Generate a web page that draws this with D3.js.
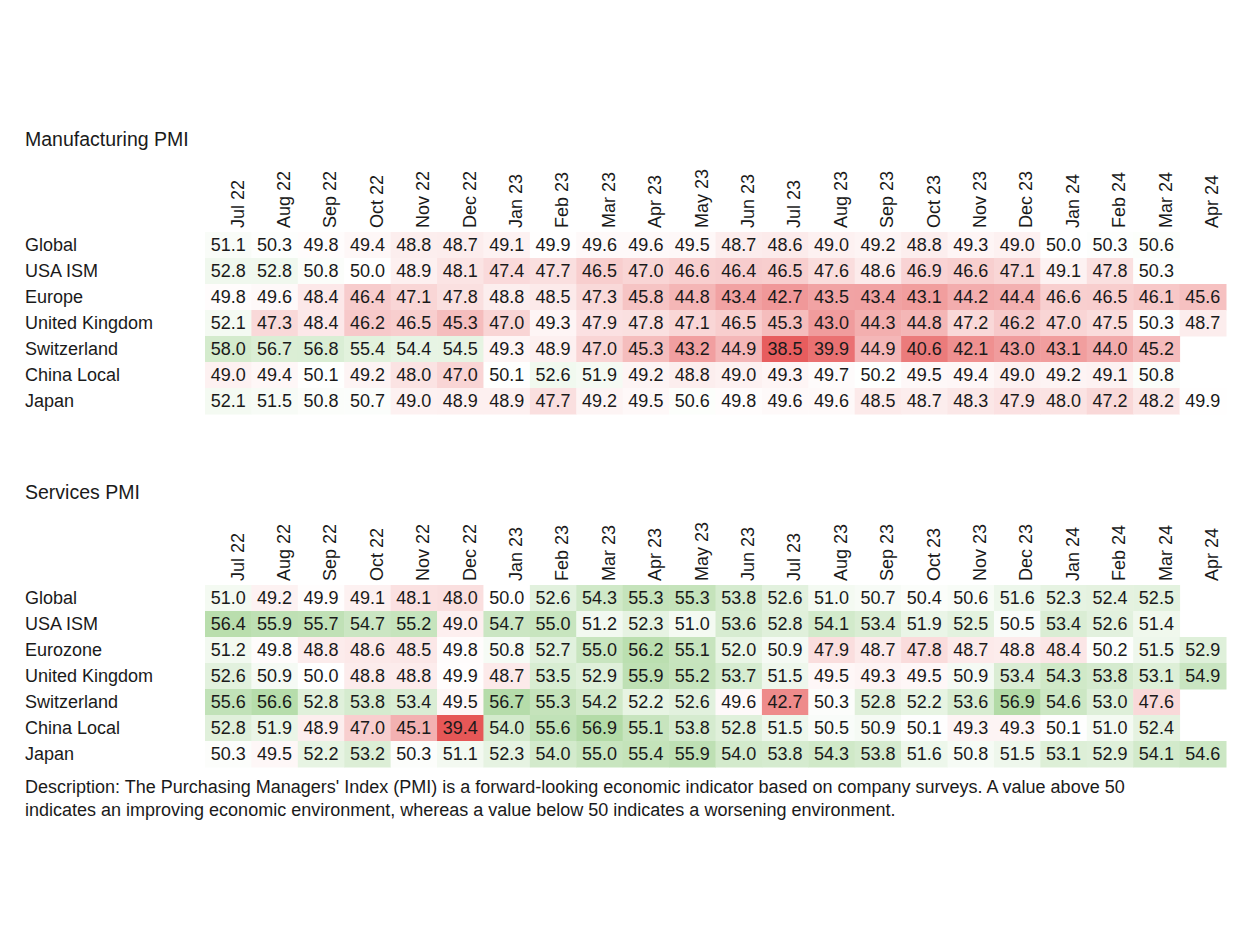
<!DOCTYPE html>
<html>
<head>
<meta charset="utf-8">
<script src="https://cdn.jsdelivr.net/npm/d3@7"></script>
<style>
  html, body { margin: 0; padding: 0; background: #fff; }
  svg text { font-family: "Liberation Sans", Arial, Helvetica, sans-serif; fill: #1a1a1a; }
</style>
</head>
<body>
<svg id="chart" width="1249" height="949"></svg>
<script>
const months = ["Jul 22","Aug 22","Sep 22","Oct 22","Nov 22","Dec 22","Jan 23","Feb 23","Mar 23","Apr 23","May 23","Jun 23","Jul 23","Aug 23","Sep 23","Oct 23","Nov 23","Dec 23","Jan 24","Feb 24","Mar 24","Apr 24"];

const mfgRegions = ["Global","USA ISM","Europe","United Kingdom","Switzerland","China Local","Japan"];
const mfgGlobal      = [51.1,50.3,49.8,49.4,48.8,48.7,49.1,49.9,49.6,49.6,49.5,48.7,48.6,49.0,49.2,48.8,49.3,49.0,50.0,50.3,50.6,null];
const mfgUSA         = [52.8,52.8,50.8,50.0,48.9,48.1,47.4,47.7,46.5,47.0,46.6,46.4,46.5,47.6,48.6,46.9,46.6,47.1,49.1,47.8,50.3,null];
const mfgEurope      = [49.8,49.6,48.4,46.4,47.1,47.8,48.8,48.5,47.3,45.8,44.8,43.4,42.7,43.5,43.4,43.1,44.2,44.4,46.6,46.5,46.1,45.6];
const mfgUK          = [52.1,47.3,48.4,46.2,46.5,45.3,47.0,49.3,47.9,47.8,47.1,46.5,45.3,43.0,44.3,44.8,47.2,46.2,47.0,47.5,50.3,48.7];
const mfgSwitzerland = [58.0,56.7,56.8,55.4,54.4,54.5,49.3,48.9,47.0,45.3,43.2,44.9,38.5,39.9,44.9,40.6,42.1,43.0,43.1,44.0,45.2,null];
const mfgChina       = [49.0,49.4,50.1,49.2,48.0,47.0,50.1,52.6,51.9,49.2,48.8,49.0,49.3,49.7,50.2,49.5,49.4,49.0,49.2,49.1,50.8,null];
const mfgJapan       = [52.1,51.5,50.8,50.7,49.0,48.9,48.9,47.7,49.2,49.5,50.6,49.8,49.6,49.6,48.5,48.7,48.3,47.9,48.0,47.2,48.2,49.9];

const svcRegions = ["Global","USA ISM","Eurozone","United Kingdom","Switzerland","China Local","Japan"];
const svcGlobal      = [51.0,49.2,49.9,49.1,48.1,48.0,50.0,52.6,54.3,55.3,55.3,53.8,52.6,51.0,50.7,50.4,50.6,51.6,52.3,52.4,52.5,null];
const svcUSA         = [56.4,55.9,55.7,54.7,55.2,49.0,54.7,55.0,51.2,52.3,51.0,53.6,52.8,54.1,53.4,51.9,52.5,50.5,53.4,52.6,51.4,null];
const svcEurozone    = [51.2,49.8,48.8,48.6,48.5,49.8,50.8,52.7,55.0,56.2,55.1,52.0,50.9,47.9,48.7,47.8,48.7,48.8,48.4,50.2,51.5,52.9];
const svcUK          = [52.6,50.9,50.0,48.8,48.8,49.9,48.7,53.5,52.9,55.9,55.2,53.7,51.5,49.5,49.3,49.5,50.9,53.4,54.3,53.8,53.1,54.9];
const svcSwitzerland = [55.6,56.6,52.8,53.8,53.4,49.5,56.7,55.3,54.2,52.2,52.6,49.6,42.7,50.3,52.8,52.2,53.6,56.9,54.6,53.0,47.6,null];
const svcChina       = [52.8,51.9,48.9,47.0,45.1,39.4,54.0,55.6,56.9,55.1,53.8,52.8,51.5,50.5,50.9,50.1,49.3,49.3,50.1,51.0,52.4,null];
const svcJapan       = [50.3,49.5,52.2,53.2,50.3,51.1,52.3,54.0,55.0,55.4,55.9,54.0,53.8,54.3,53.8,51.6,50.8,51.5,53.1,52.9,54.1,54.6];

const description = [
  "Description: The Purchasing Managers' Index (PMI) is a forward-looking economic indicator based on company surveys. A value above 50",
  "indicates an improving economic environment, whereas a value below 50 indicates a worsening environment."
];

const svg = d3.select("#chart");
const FS = 18;

function drawTable(g, title, regions, rows, colorRange) {
  const all = rows.flat().filter(v => v != null);
  const color = d3.scaleLinear()
    .domain([d3.min(all), 50, d3.max(all)])
    .range(colorRange)
    .interpolate(d3.interpolateRgb)
    .clamp(true);

  const x = d3.scaleBand().domain(months).range([205, 1226]).padding(0);
  const y = d3.scaleBand().domain(regions).range([100, 282]).padding(0);

  g.append("text").attr("x", 25).attr("y", 7).attr("dy", "0.35em")
    .style("font-size", "19.5px").text(title);

  // column headers
  g.append("g").selectAll("text").data(months).join("text")
    .attr("transform", d => `translate(${x(d) + x.bandwidth() / 2 + 9},${96}) rotate(-90)`)
    .attr("text-anchor", "start").attr("dy", "0.35em")
    .style("font-size", FS + "px").text(d => d);

  // row labels
  g.append("g").selectAll("text").data(regions).join("text")
    .attr("x", 25).attr("y", d => y(d) + y.bandwidth() / 2).attr("dy", "0.36em")
    .style("font-size", FS + "px").text(d => d);

  const cells = [];
  rows.forEach((r, i) => r.forEach((v, j) => { if (v != null) cells.push({ region: regions[i], month: months[j], v }); }));

  g.append("g").selectAll("rect").data(cells).join("rect")
    .attr("x", d => x(d.month)).attr("y", d => y(d.region))
    .attr("width", x.bandwidth() + 0.5).attr("height", y.bandwidth() + 0.5)
    .attr("fill", d => color(d.v));

  g.append("g").selectAll("text").data(cells).join("text")
    .attr("x", d => x(d.month) + x.bandwidth() / 2)
    .attr("y", d => y(d.region) + y.bandwidth() / 2).attr("dy", "0.36em")
    .attr("text-anchor", "middle")
    .style("font-size", FS + "px").text(d => d.v.toFixed(1));
}

drawTable(svg.append("g").attr("transform", "translate(0,132)"),
  "Manufacturing PMI", mfgRegions,
  [mfgGlobal, mfgUSA, mfgEurope, mfgUK, mfgSwitzerland, mfgChina, mfgJapan],
  ["#e75d5e", "#ffffff", "#d4ebcd"]);

drawTable(svg.append("g").attr("transform", "translate(0,485)"),
  "Services PMI", svcRegions,
  [svcGlobal, svcUSA, svcEurozone, svcUK, svcSwitzerland, svcChina, svcJapan],
  ["#e65757", "#ffffff", "#b3dba7"]);

svg.append("g").selectAll("text").data(description).join("text")
  .attr("x", 25).attr("y", (d, i) => 787 + i * 22.5).attr("dy", "0.35em")
  .style("font-size", "18px").text(d => d);
</script>
</body>
</html>
